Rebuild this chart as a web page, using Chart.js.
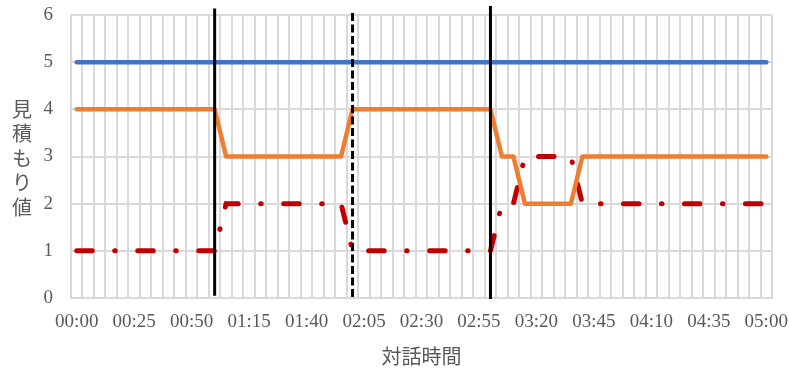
<!DOCTYPE html>
<html>
<head>
<meta charset="utf-8">
<script src="https://cdn.jsdelivr.net/npm/chart.js@4"></script>
<style>
  body { margin: 0; background: #fff; }
</style>
</head>
<body>
<canvas id="grafica" width="789" height="372"></canvas>
<script>
// 5秒刻みの時刻（00:00〜05:00）
const times = [
    '00:00', '00:05', '00:10', '00:15', '00:20', '00:25', '00:30', '00:35', '00:40', '00:45',
    '00:50', '00:55', '01:00', '01:05', '01:10', '01:15', '01:20', '01:25', '01:30', '01:35',
    '01:40', '01:45', '01:50', '01:55', '02:00', '02:05', '02:10', '02:15', '02:20', '02:25',
    '02:30', '02:35', '02:40', '02:45', '02:50', '02:55', '03:00', '03:05', '03:10', '03:15',
    '03:20', '03:25', '03:30', '03:35', '03:40', '03:45', '03:50', '03:55', '04:00', '04:05',
    '04:10', '04:15', '04:20', '04:25', '04:30', '04:35', '04:40', '04:45', '04:50', '04:55',
    '05:00'
];

const blueValues = [
    5, 5, 5, 5, 5, 5, 5, 5, 5, 5,
    5, 5, 5, 5, 5, 5, 5, 5, 5, 5,
    5, 5, 5, 5, 5, 5, 5, 5, 5, 5,
    5, 5, 5, 5, 5, 5, 5, 5, 5, 5,
    5, 5, 5, 5, 5, 5, 5, 5, 5, 5,
    5, 5, 5, 5, 5, 5, 5, 5, 5, 5,
    5
];

const orangeValues = [
    4, 4, 4, 4, 4, 4, 4, 4, 4, 4,
    4, 4, 4, 3, 3, 3, 3, 3, 3, 3,
    3, 3, 3, 3, 4, 4, 4, 4, 4, 4,
    4, 4, 4, 4, 4, 4, 4, 3, 3, 2,
    2, 2, 2, 2, 3, 3, 3, 3, 3, 3,
    3, 3, 3, 3, 3, 3, 3, 3, 3, 3,
    3
];

const redValues = [
    1, 1, 1, 1, 1, 1, 1, 1, 1, 1,
    1, 1, 1, 2, 2, 2, 2, 2, 2, 2,
    2, 2, 2, 2, 1, 1, 1, 1, 1, 1,
    1, 1, 1, 1, 1, 1, 1, 2, 2, 3,
    3, 3, 3, 3, 2, 2, 2, 2, 2, 2,
    2, 2, 2, 2, 2, 2, 2, 2, 2, 2,
    2
];

const yTicks = [0, 1, 2, 3, 4, 5, 6];

// 区切り線の時刻
const markerTimes = ['01:00', '02:00', '03:00'];

const markerStyles = [
    { dash: [], top: 6.14, bottom: 0.05 },
    { dash: [8, 3.5], top: 6.04, bottom: -0.04 },
    { dash: [], top: 6.19, bottom: -0.02 }
];

const yTitle = '見積もり値';
const xTitle = '対話時間';

const tickFont = { family: 'Liberation Serif', size: 19 };
const textColor = '#595959';
const gridColor = '#d9d9d9';

// 縦線（区切り）を描く
const markerPlugin = {
    id: 'markers',
    afterDatasetsDraw(chart) {
        const { ctx, scales: { x, y } } = chart;
        ctx.save();
        ctx.strokeStyle = '#000';
        ctx.lineWidth = 3;
        markerTimes.forEach((t, i) => {
            const px = x.getPixelForValue(times.indexOf(t));
            const st = markerStyles[i];
            ctx.setLineDash(st.dash);
            ctx.beginPath();
            ctx.moveTo(px, y.getPixelForValue(st.top));
            ctx.lineTo(px, y.getPixelForValue(st.bottom));
            ctx.stroke();
        });
        ctx.restore();
    }
};

// 縦書きの軸タイトル
const yTitlePlugin = {
    id: 'yTitle',
    afterDraw(chart) {
        const { ctx } = chart;
        ctx.save();
        ctx.fillStyle = textColor;
        ctx.font = '20px "Noto Sans CJK JP"';
        ctx.textAlign = 'center';
        ctx.textBaseline = 'middle';
        [...yTitle].forEach((ch, i) => {
            ctx.fillText(ch, 22, 109 + i * 24.5);
        });
        ctx.restore();
    }
};

const ctx = document.getElementById('grafica');

new Chart(ctx, {
    type: 'line',

    data: {
        labels: times,

        datasets: [
            {
                data: blueValues,
                borderColor: '#4472c4',
                borderWidth: 4.5,
                borderCapStyle: 'round',
                pointRadius: 0,
                fill: false
            },
            {
                data: orangeValues,
                borderColor: '#ed7d31',
                borderWidth: 4.5,
                borderCapStyle: 'round',
                borderJoinStyle: 'round',
                pointRadius: 0,
                fill: false
            },
            {
                data: redValues,
                borderColor: '#c00000',
                borderWidth: 5,
                borderCapStyle: 'round',
                borderDash: [15.5, 22.5, 0.5, 22.5],
                pointRadius: 0,
                fill: false
            }
        ]
    },

    options: {
        responsive: false,
        animation: false,
        devicePixelRatio: 1,

        layout: {
            padding: { left: 0, right: 17, top: 15, bottom: 0 }
        },

        plugins: {
            legend: { display: false },
            tooltip: { enabled: false }
        },

        scales: {
            x: {
                offset: true,
                grid: {
                    offset: true,
                    color: gridColor,
                    lineWidth: 2,
                    drawTicks: false
                },
                border: { color: gridColor, width: 2 },
                ticks: {
                    autoSkip: false,
                    maxRotation: 0,
                    padding: 13,
                    color: textColor,
                    font: tickFont,
                    callback: (v, i) => (i % 5 === 0 ? times[i] : '')
                },
                title: {
                    display: true,
                    text: xTitle,
                    color: textColor,
                    font: { family: 'Noto Sans CJK JP', size: 20 },
                    padding: { top: 0, bottom: 4 }
                },
                afterFit: (scale) => {
                    scale.height = 74;
                    scale.paddingLeft = 0;
                    scale.paddingRight = 0;
                }
            },

            y: {
                min: 0,
                max: 6,
                afterBuildTicks: (scale) => {
                    scale.ticks = yTicks.map(v => ({ value: v }));
                },
                grid: {
                    color: gridColor,
                    lineWidth: 2,
                    drawTicks: false
                },
                border: { display: false },
                ticks: {
                    padding: 18,
                    color: textColor,
                    font: tickFont
                },
                afterFit: (scale) => {
                    scale.width = 71;
                    scale.paddingTop = 0;
                    scale.paddingBottom = 0;
                }
            }
        }
    },

    plugins: [markerPlugin, yTitlePlugin]
});
</script>
</body>
</html>
